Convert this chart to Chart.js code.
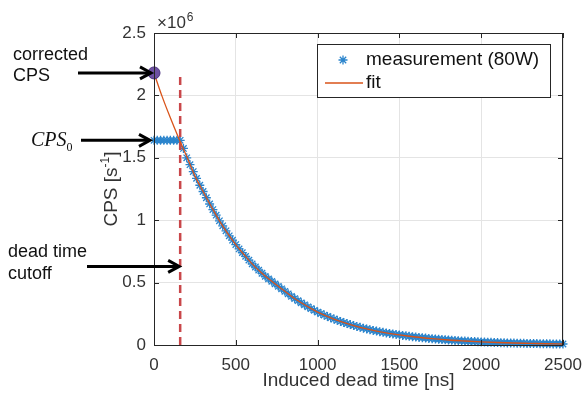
<!DOCTYPE html>
<html>
<head>
<meta charset="utf-8">
<script src="https://cdn.jsdelivr.net/npm/chart.js@4.4.0/dist/chart.umd.min.js"></script>
<style>
  html, body { margin: 0; padding: 0; background: #fff; }
</style>
</head>
<body>
<canvas id="cpsChart" width="583" height="397"></canvas>
<script>
// values in units of 10^6 counts per second
var measTime = [
  0, 20, 40, 60, 80, 100, 120, 140, 160, 180, 200, 220, 240, 260, 280, 300, 320, 340, 360, 380,
  400, 420, 440, 460, 480, 500, 520, 540, 560, 580, 600, 620, 640, 660, 680, 700, 720, 740, 760, 780,
  800, 820, 840, 860, 880, 900, 920, 940, 960, 980, 1000, 1020, 1040, 1060, 1080, 1100, 1120, 1140, 1160, 1180,
  1200, 1220, 1240, 1260, 1280, 1300, 1320, 1340, 1360, 1380, 1400, 1420, 1440, 1460, 1480, 1500, 1520, 1540, 1560, 1580,
  1600, 1620, 1640, 1660, 1680, 1700, 1720, 1740, 1760, 1780, 1800, 1820, 1840, 1860, 1880, 1900, 1920, 1940, 1960, 1980,
  2000, 2020, 2040, 2060, 2080, 2100, 2120, 2140, 2160, 2180, 2200, 2220, 2240, 2260, 2280, 2300, 2320, 2340, 2360, 2380,
  2400, 2420, 2440, 2460, 2480, 2500
];
var measCps = [
  1.64, 1.64, 1.64, 1.64, 1.64, 1.64, 1.64, 1.64, 1.64, 1.575, 1.50, 1.445, 1.39, 1.335, 1.28, 1.23, 1.18, 1.13, 1.085, 1.04,
  0.995, 0.955, 0.915, 0.875, 0.84, 0.805, 0.77, 0.74, 0.71, 0.68, 0.65, 0.625, 0.60, 0.575, 0.55, 0.53, 0.51, 0.49, 0.47, 0.45,
  0.43, 0.41, 0.39, 0.372, 0.355, 0.338, 0.322, 0.306, 0.292, 0.278, 0.264, 0.252, 0.24, 0.229, 0.218, 0.208, 0.198, 0.189, 0.18, 0.172,
  0.164, 0.156, 0.149, 0.142, 0.135, 0.129, 0.123, 0.117, 0.112, 0.107, 0.102, 0.097, 0.093, 0.089, 0.085, 0.081, 0.077, 0.074, 0.07, 0.067,
  0.064, 0.061, 0.058, 0.056, 0.053, 0.051, 0.048, 0.046, 0.044, 0.042, 0.04, 0.038, 0.037, 0.035, 0.033, 0.032, 0.03, 0.029, 0.028, 0.026,
  0.025, 0.024, 0.023, 0.022, 0.021, 0.02, 0.019, 0.018, 0.017, 0.017, 0.016, 0.015, 0.015, 0.014, 0.013, 0.013, 0.012, 0.012, 0.011, 0.011,
  0.01, 0.01, 0.009, 0.009, 0.008, 0.008
];
var fitTime = [0, 50, 100, 150, 200, 250, 300, 350, 400, 450, 500, 550, 600, 650, 700, 750, 800, 850, 900, 950,
  1000, 1100, 1200, 1300, 1400, 1500, 1600, 1700, 1800, 1900, 2000, 2100, 2200, 2300, 2400, 2500];
var fitCps = [2.18, 1.99, 1.82, 1.66, 1.51, 1.355, 1.23, 1.11, 0.995, 0.895, 0.805, 0.725, 0.65, 0.587, 0.53, 0.48, 0.43, 0.381, 0.338, 0.299,
  0.264, 0.208, 0.164, 0.129, 0.102, 0.081, 0.064, 0.051, 0.040, 0.032, 0.025, 0.020, 0.016, 0.013, 0.010, 0.008];
var correctedCps = 2.18;
var cps0 = 1.64;
var cutoffTime = 160;
var cutoffTop = 2.17;
var xTicks = [0, 500, 1000, 1500, 2000, 2500];
var yTicks = [0, 0.5, 1, 1.5, 2, 2.5];

var FONT = '"Liberation Sans", Arial, Helvetica, sans-serif';
var SERIF = '"Liberation Serif", "Times New Roman", serif';
var AXIS = '#262626';

function toPoints(xs, ys) {
  var pts = [];
  for (var i = 0; i < xs.length; i++) pts.push({ x: xs[i], y: ys[i] });
  return pts;
}

function drawArrow(ctx, x0, x1, y) {
  ctx.save();
  ctx.strokeStyle = '#000';
  ctx.lineWidth = 3;
  ctx.lineCap = 'butt';
  ctx.beginPath();
  ctx.moveTo(x0, y);
  ctx.lineTo(x1 - 2, y);
  ctx.stroke();
  ctx.lineJoin = 'miter';
  ctx.beginPath();
  ctx.moveTo(x1 - 11, y - 6);
  ctx.lineTo(x1, y);
  ctx.lineTo(x1 - 11, y + 6);
  ctx.stroke();
  ctx.restore();
}

function drawStar(ctx, x, y, r, color) {
  ctx.save();
  ctx.strokeStyle = color;
  ctx.lineWidth = 1.3;
  ctx.beginPath();
  ctx.moveTo(x - r, y); ctx.lineTo(x + r, y);
  ctx.moveTo(x, y - r); ctx.lineTo(x, y + r);
  var d = r * 0.7071;
  ctx.moveTo(x - d, y - d); ctx.lineTo(x + d, y + d);
  ctx.moveTo(x - d, y + d); ctx.lineTo(x + d, y - d);
  ctx.stroke();
  ctx.restore();
}

var extras = {
  id: 'extras',
  afterDraw: function(chart) {
    var ctx = chart.ctx;
    var area = chart.chartArea;
    var xs = chart.scales.x, ys = chart.scales.y;

    // box and inward ticks
    ctx.save();
    ctx.strokeStyle = AXIS;
    ctx.lineWidth = 1;
    ctx.strokeRect(area.left + 0.5, area.top + 0.5, area.right - area.left - 1, area.bottom - area.top);
    ctx.beginPath();
    xTicks.forEach(function(v) {
      var px = Math.round(xs.getPixelForValue(v)) + 0.5;
      ctx.moveTo(px, area.bottom); ctx.lineTo(px, area.bottom - 5);
      ctx.moveTo(px, area.top); ctx.lineTo(px, area.top + 5);
    });
    yTicks.forEach(function(v) {
      var py = Math.round(ys.getPixelForValue(v)) + 0.5;
      ctx.moveTo(area.left, py); ctx.lineTo(area.left + 5, py);
      ctx.moveTo(area.right, py); ctx.lineTo(area.right - 5, py);
    });
    ctx.stroke();
    ctx.restore();

    // x10^6 exponent label
    ctx.save();
    ctx.fillStyle = '#333';
    ctx.textBaseline = 'alphabetic';
    ctx.font = '17px ' + FONT;
    ctx.fillText('\u00d710', 157, 28);
    var w = ctx.measureText('\u00d710').width;
    ctx.font = '12px ' + FONT;
    ctx.fillText('6', 157 + w + 1, 21);
    ctx.restore();

    // y axis title
    ctx.save();
    ctx.translate(117, (area.top + area.bottom) / 2);
    ctx.rotate(-Math.PI / 2);
    ctx.fillStyle = '#333';
    ctx.textBaseline = 'alphabetic';
    ctx.font = '19px ' + FONT;
    var a = 'CPS [s', b = '-1', c = ']';
    var wa = ctx.measureText(a).width, wc = ctx.measureText(c).width;
    ctx.font = '12px ' + FONT;
    var wb = ctx.measureText(b).width;
    var sx = -(wa + wb + wc) / 2;
    ctx.font = '19px ' + FONT;
    ctx.fillText(a, sx, 0);
    ctx.fillText(c, sx + wa + wb, 0);
    ctx.font = '12px ' + FONT;
    ctx.fillText(b, sx + wa, -8);
    ctx.restore();

    // legend
    ctx.save();
    ctx.fillStyle = '#fff';
    ctx.fillRect(317, 44, 233, 53);
    ctx.strokeStyle = AXIS;
    ctx.lineWidth = 1;
    ctx.strokeRect(317.5, 44.5, 233, 53);
    drawStar(ctx, 343, 60, 4.5, '#2a84cc');
    ctx.strokeStyle = '#D95319';
    ctx.lineWidth = 1.3;
    ctx.beginPath(); ctx.moveTo(325, 83); ctx.lineTo(363, 83); ctx.stroke();
    ctx.fillStyle = '#111';
    ctx.font = '19px ' + FONT;
    ctx.textBaseline = 'middle';
    ctx.fillText('measurement (80W)', 366, 60);
    ctx.fillText('fit', 366, 83);
    ctx.restore();

    // left side notes
    ctx.save();
    ctx.fillStyle = '#111';
    ctx.textBaseline = 'alphabetic';
    ctx.font = '18px ' + FONT;
    ctx.fillText('corrected', 13, 60);
    ctx.fillText('CPS', 13, 81);
    ctx.fillText('dead time', 8, 257);
    ctx.fillText('cutoff', 8, 279);
    ctx.font = 'italic 20px ' + SERIF;
    ctx.fillText('CPS', 31, 146);
    var wc0 = ctx.measureText('CPS').width;
    ctx.font = '12px ' + SERIF;
    ctx.fillText('0', 31 + wc0, 151);
    ctx.restore();

    var x0 = xs.getPixelForValue(0);
    drawArrow(ctx, 78, x0 - 3, ys.getPixelForValue(correctedCps));
    drawArrow(ctx, 81, x0 - 4, ys.getPixelForValue(cps0));
    drawArrow(ctx, 87, xs.getPixelForValue(cutoffTime) - 1, ys.getPixelForValue(0.63));
  }
};

var ctx = document.getElementById('cpsChart').getContext('2d');
var cpsChart = new Chart(ctx, {
  type: 'scatter',
  data: {
    datasets: [{
      label: 'corrected CPS',
      data: [{ x: 0, y: correctedCps }],
      pointRadius: 6,
      pointBackgroundColor: '#6d50a2',
      pointBorderColor: '#4b3380',
      pointBorderWidth: 1,
      clip: false,
      order: 0
    }, {
      label: 'fit',
      data: toPoints(fitTime, fitCps),
      showLine: true,
      borderColor: '#D95319',
      borderWidth: 1.3,
      pointRadius: 0,
      cubicInterpolationMode: 'monotone',
      order: 1
    }, {
      label: 'dead time cutoff',
      data: [{ x: cutoffTime, y: 0 }, { x: cutoffTime, y: cutoffTop }],
      showLine: true,
      borderColor: '#c9474a',
      borderWidth: 2.5,
      borderDash: [8, 5],
      pointRadius: 0,
      order: 2
    }, {
      label: 'measurement (80W)',
      data: toPoints(measTime, measCps),
      pointStyle: 'star',
      pointRadius: 4.5,
      pointBorderWidth: 1.3,
      borderColor: '#2a84cc',
      backgroundColor: '#2a84cc',
      clip: false,
      order: 3
    }]
  },
  options: {
    responsive: false,
    animation: false,
    layout: { padding: { left: 97, right: 20, top: 33, bottom: 5 } },
    plugins: {
      legend: { display: false },
      tooltip: { enabled: false }
    },
    scales: {
      x: {
        type: 'linear',
        min: 0,
        max: 2500,
        afterFit: function(s) { s.height = 47; s.paddingLeft = 0; s.paddingRight = 0; },
        ticks: {
          stepSize: 500,
          padding: 10,
          maxRotation: 0,
          color: '#333',
          font: { family: FONT, size: 17 },
          callback: function(v) { return String(v); }
        },
        grid: { color: '#e4e4e4', drawTicks: false },
        border: { color: AXIS },
        title: {
          display: true,
          text: 'Induced dead time [ns]',
          color: '#333',
          font: { family: FONT, size: 19 },
          padding: { top: 0, bottom: 0 }
        }
      },
      y: {
        min: 0,
        max: 2.5,
        afterFit: function(s) { s.width = 57; s.paddingTop = 0; s.paddingBottom = 0; },
        ticks: {
          stepSize: 0.5,
          padding: 8,
          color: '#333',
          font: { family: FONT, size: 17 },
          callback: function(v) { return String(v); }
        },
        grid: { color: '#e4e4e4', drawTicks: false },
        border: { color: AXIS }
      }
    }
  },
  plugins: [extras]
});
</script>
</body>
</html>
